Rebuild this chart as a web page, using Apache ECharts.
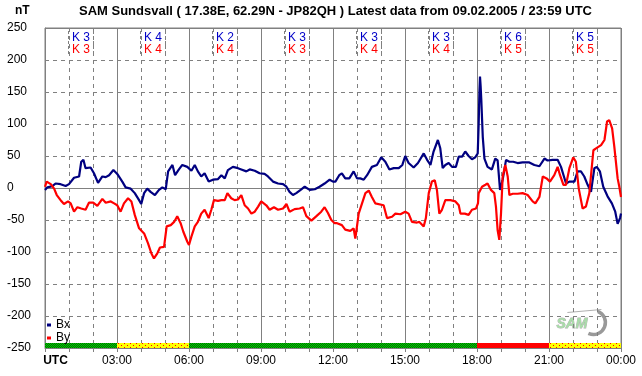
<!DOCTYPE html>
<html>
<head>
<meta charset="utf-8">
<script src="https://cdn.jsdelivr.net/npm/echarts@6/dist/echarts.min.js"></script>
<style>
  html, body { margin: 0; padding: 0; background: #fff; }
  #box { width: 642px; height: 376px; }
</style>
</head>
<body>
<div id="box"></div>
<script>
// 数据：时间(UTC小时), 数值(nT)
var bxData = [
  [0, -3], [0.10, 1], [0.31, 3], [0.44, 7], [0.65, 6], [0.86, 3], [1.00, 6], [1.21, 16], [1.42, 18],
  [1.51, 41], [1.60, 44], [1.69, 31], [1.90, 32], [2.04, 23], [2.21, 8], [2.39, 18], [2.53, 17],
  [2.67, 20], [2.85, 28], [3.01, 22], [3.22, 10], [3.36, 1], [3.57, -1], [3.74, -8], [3.92, -19],
  [4.01, -25], [4.13, -8], [4.26, -1], [4.40, -6], [4.58, -11], [4.75, -3], [4.89, 1], [5.03, -2],
  [5.13, 26], [5.31, 36], [5.42, 20], [5.58, 29], [5.72, 36], [5.93, 33],
  [6.10, 27], [6.24, 36], [6.37, 26], [6.51, 18], [6.65, 23], [6.82, 10], [7.00, 13], [7.21, 14],
  [7.35, 20], [7.49, 15], [7.62, 28], [7.83, 33], [8.04, 31], [8.18, 29], [8.39, 26], [8.53, 29],
  [8.74, 27], [8.94, 23], [9.15, 22], [9.29, 18], [9.50, 10], [9.71, 7], [9.92, 6], [10.06, 2],
  [10.19, -6], [10.33, -11], [10.47, -8], [10.68, -2], [10.82, 2], [11.03, -3], [11.24, -2],
  [11.44, 2], [11.65, 7], [11.86, 13], [12.00, 10],
  [12.10, 10], [12.26, 20], [12.37, 23], [12.51, 15], [12.68, 15], [12.86, 26], [13.00, 15],
  [13.14, 15], [13.28, 13], [13.42, 20], [13.62, 33], [13.83, 36], [14.01, 48], [14.18, 41],
  [14.35, 29], [14.53, 31], [14.74, 31], [14.89, 36], [15.01, 50], [15.15, 39], [15.36, 32],
  [15.54, 39], [15.78, 54], [15.92, 44], [16.06, 36], [16.19, 57], [16.37, 75], [16.47, 62],
  [16.57, 31], [16.68, 36], [16.82, 39], [16.96, 33], [17.12, 33], [17.24, 49], [17.38, 49],
  [17.51, 57], [17.65, 50], [17.79, 45], [17.93, 48], [18.03, 54],
  [18.07, 100], [18.10, 150], [18.125, 174], [18.15, 160], [18.18, 137], [18.24, 80], [18.31, 46],
  [18.44, 33], [18.62, 29], [18.76, 46], [18.86, 43], [18.96, -3], [19.07, 13], [19.21, 44],
  [19.35, 41], [19.51, 41], [19.69, 39], [19.90, 40], [20.18, 40], [20.39, 36], [20.60, 34],
  [20.81, 46], [20.94, 43], [21.15, 44], [21.36, 44], [21.50, 33], [21.71, 7], [21.85, 10],
  [22.06, 10], [22.19, 26], [22.33, 26], [22.47, 18], [22.61, 5], [22.75, -6], [22.89, 31],
  [22.99, 33], [23.12, 26], [23.26, 2], [23.44, -13], [23.62, -24], [23.76, -37], [23.86, -56],
  [23.96, -47], [24.0, -40]
];

var byData = [
  [0, 2], [0.07, 10], [0.24, 6], [0.38, -1], [0.49, -11], [0.65, -19], [0.79, -25], [0.96, -21],
  [1.07, -24], [1.21, -37], [1.35, -30], [1.51, -32], [1.69, -34], [1.83, -23], [2.01, -23],
  [2.18, -28], [2.39, -17], [2.53, -23], [2.74, -21], [2.88, -24], [3.01, -27], [3.15, -37],
  [3.29, -24], [3.46, -16], [3.60, -21], [3.74, -42], [3.92, -63], [4.13, -71], [4.29, -86],
  [4.43, -102], [4.54, -110], [4.68, -102], [4.79, -93], [4.96, -92], [5.07, -60], [5.24, -58],
  [5.38, -53], [5.51, -44], [5.65, -55], [5.76, -68], [5.93, -84], [6.00, -89],
  [6.10, -76], [6.24, -60], [6.37, -53], [6.51, -40], [6.65, -34], [6.82, -47], [6.93, -34],
  [7.04, -19], [7.21, -20], [7.35, -19], [7.49, -19], [7.60, -8], [7.76, -16], [7.90, -19],
  [8.04, -18], [8.18, -11], [8.32, -27], [8.46, -32], [8.60, -40], [8.74, -37], [8.88, -29],
  [9.01, -21], [9.22, -27], [9.36, -34], [9.54, -30], [9.71, -34], [9.92, -32], [10.06, -25],
  [10.19, -37], [10.40, -33], [10.61, -32], [10.75, -30], [10.89, -44], [11.10, -51], [11.31, -44],
  [11.51, -37], [11.65, -30], [11.79, -39], [11.93, -50], [12.07, -55],
  [12.17, -55], [12.37, -58], [12.51, -65], [12.72, -67], [12.86, -63], [12.93, -79], [13.00, -81],
  [13.07, -40], [13.21, -24], [13.35, -8], [13.49, -4], [13.62, -14], [13.76, -24], [14.11, -27],
  [14.25, -47], [14.46, -45], [14.60, -40], [14.81, -41], [15.01, -37], [15.15, -40], [15.29, -53],
  [15.50, -54], [15.60, -53], [15.78, -60], [15.87, -47], [15.99, -8], [16.12, 10], [16.24, 12],
  [16.33, -3], [16.43, -40], [16.54, -34], [16.68, -19], [16.89, -19], [17.10, -21], [17.24, -27],
  [17.31, -40], [17.49, -40], [17.65, -42], [17.79, -34], [17.96, -32], [18.04, -24], [18.07, -8],
  [18.14, -11], [18.21, 2], [18.35, 5], [18.44, 7], [18.58, -3], [18.72, -8], [18.79, -29],
  [18.86, -66], [18.93, -81], [19.00, -40], [19.07, 18], [19.18, 36], [19.28, 18], [19.35, -11],
  [19.49, -9], [19.69, -9], [19.90, -8], [20.11, -11], [20.32, -21], [20.43, -24], [20.60, -14],
  [20.74, 18], [20.90, 15], [21.04, 10], [21.22, 20], [21.36, 33], [21.46, 20], [21.60, 5],
  [21.71, 5], [21.85, 31], [22.01, 48], [22.12, 41], [22.24, -1], [22.40, -32], [22.54, -29],
  [22.68, -8], [22.85, 59], [22.96, 62], [23.17, 67], [23.31, 75], [23.42, 104], [23.51, 106],
  [23.63, 93], [23.72, 65], [23.86, 15], [23.93, 2], [24.0, -14]
];

// 每3小时的K指数
var kBx = [3, 4, 2, 3, 3, 3, 6, 5];
var kBy = [3, 4, 4, 3, 4, 4, 5, 5];
// 底部状态条: g 绿, y 黄, r 红
var kStatus = ['g', 'y', 'g', 'g', 'g', 'g', 'r', 'y'];

var yTicks = { min: -250, max: 250, step: 50 };
var titleText = 'SAM Sundsvall ( 17.38E, 62.29N - JP82QH ) Latest data from 09.02.2005 / 23:59 UTC';

var FONT = 'Liberation Sans, Arial, sans-serif';
var GRAY = '#808080';

function makePattern(w, h, bg, dots) {
  var c = document.createElement('canvas');
  c.width = w; c.height = h;
  var ctx = c.getContext('2d');
  ctx.fillStyle = bg;
  ctx.fillRect(0, 0, w, h);
  dots.forEach(function (d) {
    ctx.fillStyle = d[2];
    ctx.fillRect(d[0], d[1], 1, 1);
  });
  return { image: c, repeat: 'repeat' };
}

var fills = {
  g: makePattern(2, 2, '#00d000', [[1, 0, '#006800'], [0, 1, '#006800']]),
  y: makePattern(6, 4, '#ffff00', [[1, 1, '#ff0000'], [4, 3, '#ff0000']]),
  r: '#ff0000'
};

var kData = kBx.map(function (v, i) { return [i, v, kBy[i]]; });
var bandData = kStatus.map(function (s, i) { return [i, s]; });

var myChart = echarts.init(document.getElementById('box'));

var option = {
  animation: false,
  backgroundColor: '#fff',
  textStyle: { fontFamily: FONT },
  title: [{
    text: titleText, left: 79, top: 5, padding: 0,
    textStyle: { fontSize: 13, fontWeight: 'bold', color: '#000', fontFamily: FONT }
  }, {
    text: 'nT', left: 15, top: 5, padding: 0,
    textStyle: { fontSize: 12, fontWeight: 'bold', color: '#000', fontFamily: FONT }
  }],
  legend: {
    data: ['Bx', 'By'],
    orient: 'vertical',
    left: 47, top: 319,
    padding: 0,
    itemGap: 1,
    itemWidth: 4, itemHeight: 3,
    icon: 'rect',
    textStyle: { fontSize: 12, color: '#000', fontFamily: FONT, lineHeight: 12 }
  },
  grid: {
    left: 45, right: 21, top: 28, bottom: 28,
    show: true, borderColor: GRAY, borderWidth: 1
  },
  xAxis: {
    type: 'value', min: 0, max: 24, interval: 3,
    axisLine: { show: true, onZero: false, lineStyle: { color: GRAY } },
    axisTick: { show: true, length: 4, lineStyle: { color: GRAY } },
    minorTick: { show: true, splitNumber: 3, length: 4, lineStyle: { color: GRAY } },
    splitLine: { show: true, lineStyle: { color: GRAY, width: 1 } },
    minorSplitLine: { show: true, lineStyle: { color: GRAY, type: [4, 4] } },
    axisLabel: {
      margin: 7, fontSize: 12, color: '#000', fontFamily: FONT,
      formatter: function (v) {
        if (v === 0) return '{u|UTC}';
        var h = v % 24;
        return (h < 10 ? '0' : '') + h + ':00';
      },
      rich: { u: { fontWeight: 'bold', fontSize: 12, padding: [0, 0, 0, 21], fontFamily: FONT } }
    }
  },
  yAxis: [{
    type: 'value', min: yTicks.min, max: yTicks.max, interval: yTicks.step,
    axisLine: { show: true, lineStyle: { color: GRAY } },
    axisTick: { show: false },
    splitLine: { show: true, lineStyle: { color: GRAY, type: [4, 4] } },
    axisLabel: { align: 'left', margin: 38, fontSize: 12, color: '#000', fontFamily: FONT }
  }, {
    // 零线(实线)
    type: 'value', min: yTicks.min, max: yTicks.max, interval: 250,
    position: 'left',
    axisLine: { show: false }, axisTick: { show: false }, axisLabel: { show: false },
    splitLine: { show: true, lineStyle: { color: GRAY, width: 1 } }
  }],
  graphic: [{
    type: 'group', left: 556, top: 307, silent: true,
    children: [
      { type: 'line', shape: { x1: 14, y1: 6, x2: 48, y2: 3 }, style: { stroke: '#b0b0b0', lineWidth: 1 } },
      { type: 'arc', shape: { cx: 40, cy: 16, r: 12, startAngle: -1.2, endAngle: 2.0 },
        style: { stroke: '#999', lineWidth: 3.5, fill: null } },
      { type: 'text', x: 3, y: 11,
        style: { text: 'SAM', font: 'italic bold 14px ' + FONT, fill: '#a8dca8', stroke: '#b0b0b0', lineWidth: 0.8 } }
    ]
  }],
  series: [{
    name: 'Bx', type: 'line', data: bxData,
    showSymbol: false, symbol: 'none',
    color: '#000080',
    lineStyle: { width: 2.2, color: '#000080' },
    z: 3
  }, {
    name: 'By', type: 'line', data: byData,
    showSymbol: false, symbol: 'none',
    color: '#ff0000',
    lineStyle: { width: 2.2, color: '#ff0000' },
    z: 4
  }, {
    // K 指数标签
    type: 'custom', data: kData, silent: true, z: 5,
    renderItem: function (params, api) {
      var i = api.value(0);
      var p = api.coord([i * 3 + 1.5, yTicks.max]);
      var dash = { stroke: GRAY, lineWidth: 1, lineDash: [3, 2] };
      return {
        type: 'group',
        children: [
          { type: 'line', shape: { x1: p[0] - 12.5, y1: p[1] + 3, x2: p[0] - 12.5, y2: p[1] + 28 }, style: dash },
          { type: 'line', shape: { x1: p[0] + 12.5, y1: p[1] + 3, x2: p[0] + 12.5, y2: p[1] + 28 }, style: dash },
          { type: 'text', x: p[0], y: p[1] + 10,
            style: { text: 'K ' + api.value(1), align: 'center', verticalAlign: 'middle', fill: '#0000c8', font: '12px ' + FONT } },
          { type: 'text', x: p[0], y: p[1] + 22,
            style: { text: 'K ' + api.value(2), align: 'center', verticalAlign: 'middle', fill: '#ff0000', font: '12px ' + FONT } }
        ]
      };
    }
  }, {
    // 底部状态条
    type: 'custom', data: bandData, silent: true, z: 1,
    renderItem: function (params, api) {
      var i = params.dataIndex;
      var a = api.coord([i * 3, -242]);
      var b = api.coord([i * 3 + 3, yTicks.min]);
      return {
        type: 'rect',
        shape: { x: a[0], y: a[1], width: b[0] - a[0], height: b[1] - a[1] },
        style: { fill: fills[kStatus[i]] }
      };
    }
  }]
};

myChart.setOption(option);
</script>
</body>
</html>
